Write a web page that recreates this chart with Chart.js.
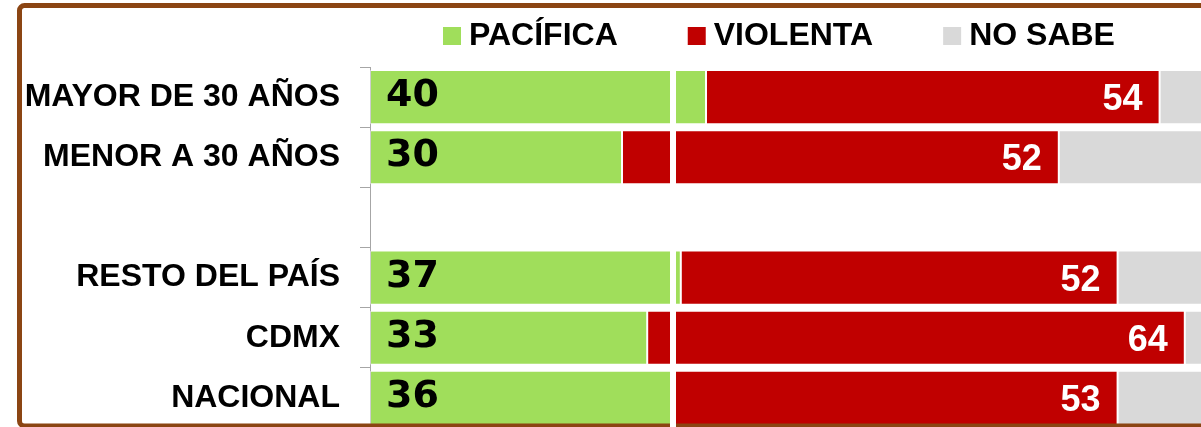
<!DOCTYPE html>
<html>
<head>
<meta charset="utf-8">
<script src="https://cdn.jsdelivr.net/npm/chart.js@4"></script>
<style>
  html, body { margin: 0; padding: 0; overflow: hidden; background: #ffffff; }
  #wrap { position: relative; width: 1220px; height: 430px; }
</style>
</head>
<body>
<div id="wrap"><canvas id="c"></canvas></div>
<script>
// ---- data ----
const categories = ['MAYOR DE 30 AÑOS', 'MENOR A 30 AÑOS', '', 'RESTO DEL PAÍS', 'CDMX', 'NACIONAL'];
const seriesNames = ['PACÍFICA', 'VIOLENTA', 'NO SABE'];
const pacifica = [40, 30, null, 37, 33, 36];
const violenta = [54, 52, null, 52, 64, 53];
const noSabe   = [6, 18, null, 11, 3, 11];
const seriesColors = ['#A0DE5B', '#C00000', '#D9D9D9'];

const labelFont = 'bold 32px "Liberation Sans", Arial, sans-serif';

const legendPlugin = {
  id: 'customLegend',
  afterDraw(chart) {
    const ctx = chart.ctx;
    ctx.save();
    ctx.font = labelFont;
    ctx.textBaseline = 'alphabetic';
    ctx.textAlign = 'left';
    let x = 443;
    chart.data.datasets.forEach(ds => {
      ctx.fillStyle = ds.backgroundColor;
      ctx.fillRect(x, 27, 18, 18);
      x += 18 + 8;
      ctx.fillStyle = '#000000';
      ctx.fillText(ds.label, x, 45);
      x += ctx.measureText(ds.label).width + 70;
    });
    ctx.restore();
  }
};

const valueLabelPlugin = {
  id: 'valueLabels',
  afterDatasetsDraw(chart) {
    const ctx = chart.ctx;
    ctx.save();
    ctx.textBaseline = 'alphabetic';
    const m0 = chart.getDatasetMeta(0);
    m0.data.forEach((el, i) => {
      const v = chart.data.datasets[0].data[i];
      if (v == null) return;
      ctx.font = 'bold 38px "DejaVu Sans", sans-serif';
      ctx.fillStyle = '#000000';
      ctx.textAlign = 'left';
      ctx.fillText(String(v), el.base + 16, el.y + 9);
    });
    const m1 = chart.getDatasetMeta(1);
    m1.data.forEach((el, i) => {
      const v = chart.data.datasets[1].data[i];
      if (v == null) return;
      ctx.font = 'bold 36px "Liberation Sans", Arial, sans-serif';
      ctx.fillStyle = '#FFFFFF';
      ctx.textAlign = 'right';
      ctx.fillText(String(v), el.x - 17, el.y + 13);
    });
    ctx.restore();
  }
};

const framePlugin = {
  id: 'frame',
  afterDraw(chart) {
    const ctx = chart.ctx;
    ctx.save();
    ctx.strokeStyle = '#8B4513';
    ctx.lineWidth = 5;
    ctx.beginPath();
    if (ctx.roundRect) ctx.roundRect(19.5, 5.5, 1400, 420.5, 5);
    else ctx.rect(19.5, 5.5, 1400, 420.5);
    ctx.stroke();
    ctx.fillStyle = '#FFFFFF';
    ctx.fillRect(670, 60, 6, 380);
    ctx.restore();
  }
};

new Chart(document.getElementById('c'), {
  type: 'bar',
  data: {
    labels: categories,
    datasets: [
      { label: seriesNames[0], data: pacifica, backgroundColor: seriesColors[0] },
      { label: seriesNames[1], data: violenta, backgroundColor: seriesColors[1] },
      { label: seriesNames[2], data: noSabe, backgroundColor: seriesColors[2] }
    ].map(d => Object.assign(d, {
      borderWidth: 1,
      borderColor: 'rgba(255,255,255,0.45)',
      borderSkipped: false,
      categoryPercentage: 1.0,
      barPercentage: 0.9
    }))
  },
  options: {
    indexAxis: 'y',
    responsive: true,
    maintainAspectRatio: false,
    animation: false,
    devicePixelRatio: 1,
    layout: { padding: { top: 67, bottom: 2, left: 0, right: 10 } },
    plugins: { legend: { display: false }, tooltip: { enabled: false } },
    scales: {
      x: { stacked: true, min: 0, max: 100, display: false },
      y: {
        stacked: true,
        afterFit(scale) { scale.width = 370; scale.paddingTop = 0; scale.paddingBottom = 0; },
        border: { display: true, color: '#A6A6A6', width: 1 },
        grid: { display: true, drawOnChartArea: false, drawTicks: true, tickLength: 10, color: '#A6A6A6', offset: true },
        ticks: { color: '#000000', padding: 20, font: { family: '"Liberation Sans", Arial, sans-serif', size: 32, weight: 'bold' } }
      }
    }
  },
  plugins: [legendPlugin, valueLabelPlugin, framePlugin]
});
</script>
</body>
</html>
